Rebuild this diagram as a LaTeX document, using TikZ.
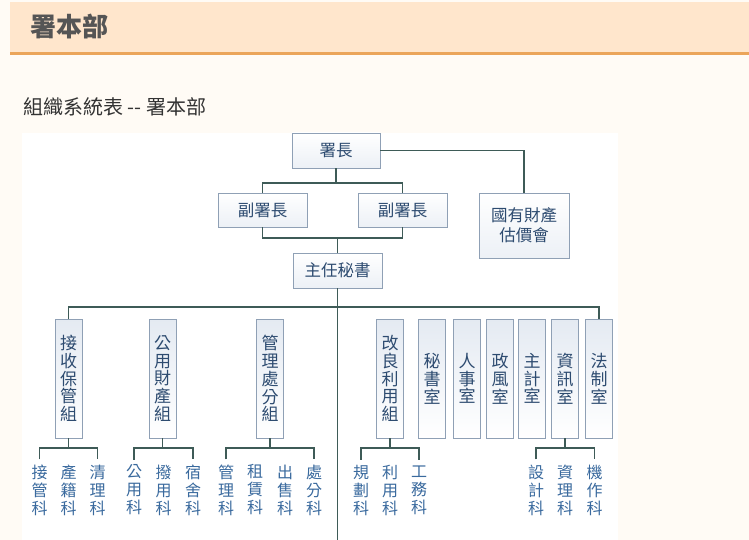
\documentclass[tikz,border=0pt]{standalone}
\usepackage{fontspec}
\newfontfamily\cjk{Noto Sans CJK TC}
\definecolor{pagebg}{HTML}{FFFBF5}
\definecolor{headbg}{HTML}{FFE6CC}
\definecolor{headline}{HTML}{EBA55A}
\definecolor{headtext}{HTML}{555555}
\definecolor{subtext}{HTML}{333333}
\definecolor{conn}{HTML}{3E5B57}
\definecolor{boxline}{HTML}{8FA0B5}
\definecolor{boxtext}{HTML}{2D4B70}
\definecolor{childtext}{HTML}{3A6A9E}
\definecolor{boxtop}{HTML}{E4EAF2}
\tikzset{
  connline/.style={draw=conn, line width=1.6pt},
  hbox/.style={draw=boxline, line width=0.8pt, top color=white, bottom color=boxtop!70,
    inner sep=0pt, align=center, text=boxtext,
    font=\cjk\fontsize{16.5}{20}\selectfont},
  vbox/.style={draw=boxline, line width=0.8pt, top color=boxtop, bottom color=white,
    minimum width=27pt, minimum height=119pt, inner sep=0pt, align=center, text=boxtext,
    font=\cjk\fontsize{17}{17.8}\selectfont},
  child/.style={inner xsep=0pt, inner ysep=5pt, align=center, text=childtext,
    font=\cjk\fontsize{16}{18}\selectfont}
}
\begin{document}
\begin{tikzpicture}[x=1pt,y=-1pt]
\useasboundingbox (0,0) rectangle (749,540);
\fill[pagebg] (0,0) rectangle (749,540);
\fill[headbg] (10,2) rectangle (749,52);
\fill[headline] (10,52) rectangle (749,55);
\fill[white] (22,133) rectangle (618,540);
\node[anchor=west, inner sep=0pt, text=headtext, font=\cjk\bfseries\fontsize{26}{30}\selectfont] (title) at (30,27) {署本部};
\node[anchor=west, inner sep=0pt, text=subtext, font=\cjk\fontsize{20}{24}\selectfont] (subtitle) at (23,107) {組織系統表 -- 署本部};

% top boxes
\node[hbox, minimum width=88pt, minimum height=35pt] (sz) at (336,150.5) {署長};
\node[hbox, minimum width=89pt, minimum height=34pt] (vl) at (262.5,210) {副署長};
\node[hbox, minimum width=89pt, minimum height=34pt] (vr) at (402.5,210) {副署長};
\node[hbox, minimum width=90pt, minimum height=65pt] (gu) at (524,225.5) {國有財產\\估價會};
\node[hbox, minimum width=89pt, minimum height=35pt] (zr) at (337.5,270.5) {主任秘書};

\coordinate (j1) at (336,183);
\coordinate (j2) at (337.5,238);
\coordinate (j3) at (337.5,307);
\coordinate (bot) at (337.5,540);

\draw[connline] (sz.south) -- (j1);
\draw[connline] (vl.north) |- (j1) -| (vr.north);
\draw[connline] (sz.east) -| (gu.north);
\draw[connline] (vl.south) |- (j2) -| (vr.south);
\draw[connline] (j2) -- (zr.north);
\draw[connline] (zr.south) -- (bot);

% row boxes
\node[vbox] (b1) at (68.5,378.5) {接\\收\\保\\管\\組};
\node[vbox] (b2) at (162.5,378.5) {公\\用\\財\\產\\組};
\node[vbox] (b3) at (270,378.5) {管\\理\\處\\分\\組};
\node[vbox] (b4) at (390,378.5) {改\\良\\利\\用\\組};
\node[vbox] (b5) at (432,378.5) {秘\\書\\室};
\node[vbox] (b6) at (467,378.5) {人\\事\\室};
\node[vbox] (b7) at (500,378.5) {政\\風\\室};
\node[vbox] (b8) at (532,378.5) {主\\計\\室};
\node[vbox] (b9) at (565,378.5) {資\\訊\\室};
\node[vbox] (b10) at (599,378.5) {法\\制\\室};

\draw[connline] (b1.north) |- (j3) -| (b10.north);

% children
\node[child] (c11) at (39.5,490) {接\\管\\科};
\node[child] (c12) at (68.5,490) {產\\籍\\科};
\node[child] (c13) at (97.5,490) {清\\理\\科};
\node[child] (c21) at (134,490) {公\\用\\科};
\node[child] (c22) at (163.5,490) {撥\\用\\科};
\node[child] (c23) at (193,490) {宿\\舍\\科};
\node[child] (c31) at (226,490) {管\\理\\科};
\node[child] (c32) at (255,490) {租\\賃\\科};
\node[child] (c33) at (285,490) {出\\售\\科};
\node[child] (c34) at (314,490) {處\\分\\科};
\node[child] (c41) at (361,490) {規\\劃\\科};
\node[child] (c42) at (390,490) {利\\用\\科};
\node[child] (c43) at (419,490) {工\\務\\科};
\node[child] (c91) at (536,490) {設\\計\\科};
\node[child] (c92) at (565,490) {資\\理\\科};
\node[child] (c93) at (594.5,490) {機\\作\\科};

\coordinate (k1) at (68.5,448);
\coordinate (k2) at (162.5,448);
\coordinate (k3) at (270,448);
\coordinate (k4) at (390,448);
\coordinate (k9) at (565,448);

\draw[connline] (b1.south) -- (k1);
\draw[connline] (c11.north) |- (k1) -| (c13.north);
\draw[connline] (b2.south) -- (k2);
\draw[connline] (c21.north) |- (k2) -| (c23.north);
\draw[connline] (b3.south) -- (k3);
\draw[connline] (c31.north) |- (k3) -| (c34.north);
\draw[connline] (b4.south) -- (k4);
\draw[connline] (c41.north) |- (k4) -| (c43.north);
\draw[connline] (b9.south) -- (k9);
\draw[connline] (c91.north) |- (k9) -| (c93.north);
\end{tikzpicture}
\end{document}
